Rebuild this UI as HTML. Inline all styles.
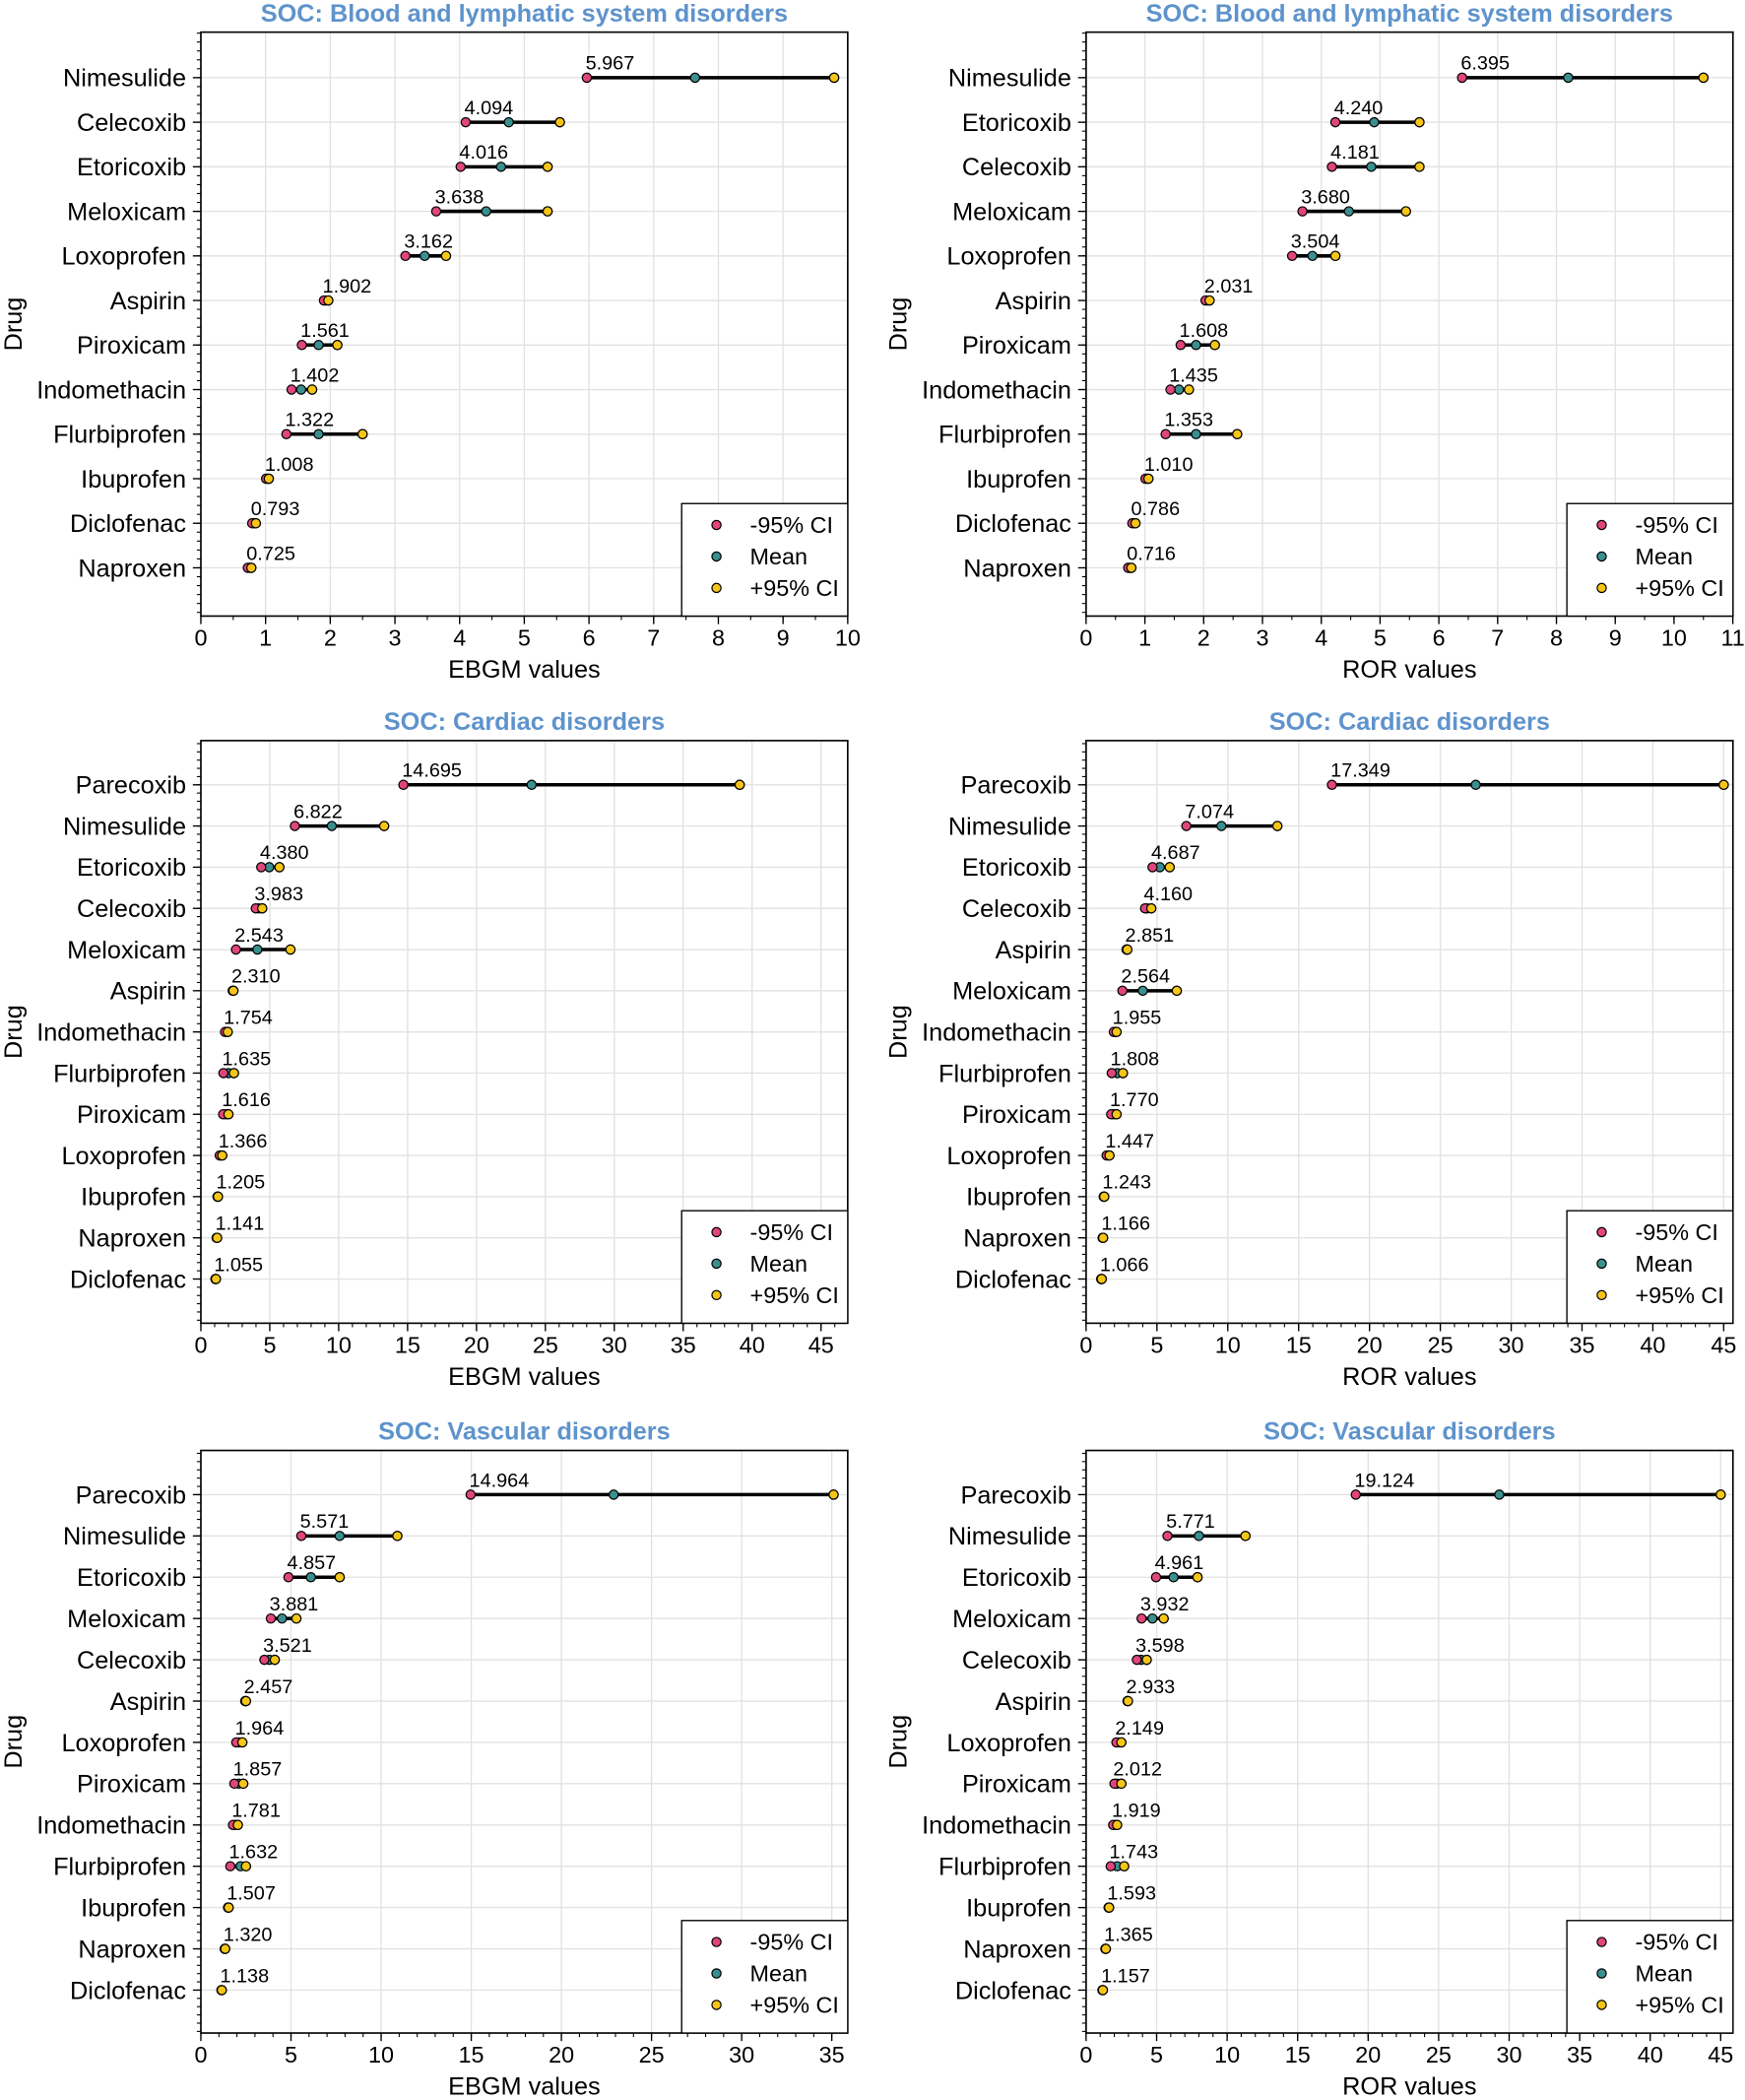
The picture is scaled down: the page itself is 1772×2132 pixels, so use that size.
<!DOCTYPE html>
<html><head><meta charset="utf-8"><style>
html,body{margin:0;padding:0;background:#fff}
svg{display:block}
text{font-family:"Liberation Sans",Arial,sans-serif}
</style></head><body>
<svg id="s" xmlns="http://www.w3.org/2000/svg" width="1772" height="2132" viewBox="0 0 1303 1568" preserveAspectRatio="none"></svg>
<script>
const S=document.getElementById('s');const NS='http://www.w3.org/2000/svg';
function el(t,a,txt){const e=document.createElementNS(NS,t);for(const k in a)e.setAttribute(k,a[k]);if(txt!==undefined)e.textContent=txt;S.appendChild(e);return e;}
const P=[
{title:"SOC: Blood and lymphatic system disorders",xl:"EBGM values",x0:150,k:48.3,x1:633,top:24,bot:460,y0:58,dy:33.27,tmax:10,ts:1,ms:0.5,rows:[
["Nimesulide","5.967",7.64,9.79],["Celecoxib","4.094",4.76,5.55],["Etoricoxib","4.016",4.64,5.36],["Meloxicam","3.638",4.41,5.36],["Loxoprofen","3.162",3.46,3.79],["Aspirin","1.902",1.93,1.97],["Piroxicam","1.561",1.82,2.11],["Indomethacin","1.402",1.55,1.72],["Flurbiprofen","1.322",1.82,2.5],["Ibuprofen","1.008",1.03,1.05],["Diclofenac","0.793",0.82,0.85],["Naproxen","0.725",0.75,0.78]]},
{title:"SOC: Blood and lymphatic system disorders",xl:"ROR values",x0:811,k:43.9,x1:1294,top:24,bot:460,y0:58,dy:33.27,tmax:11,ts:1,ms:0.5,rows:[
["Nimesulide","6.395",8.2,10.5],["Etoricoxib","4.240",4.9,5.67],["Celecoxib","4.181",4.85,5.67],["Meloxicam","3.680",4.47,5.44],["Loxoprofen","3.504",3.85,4.24],["Aspirin","2.031",2.06,2.1],["Piroxicam","1.608",1.87,2.19],["Indomethacin","1.435",1.58,1.75],["Flurbiprofen","1.353",1.87,2.57],["Ibuprofen","1.010",1.03,1.06],["Diclofenac","0.786",0.81,0.84],["Naproxen","0.716",0.74,0.77]]},
{title:"SOC: Cardiac disorders",xl:"EBGM values",x0:150,k:10.29,x1:633,top:553,bot:988,y0:586,dy:30.75,tmax:45,ts:5,ms:1,rows:[
["Parecoxib","14.695",24.0,39.1],["Nimesulide","6.822",9.5,13.3],["Etoricoxib","4.380",4.96,5.7],["Celecoxib","3.983",4.2,4.45],["Meloxicam","2.543",4.1,6.5],["Aspirin","2.310",2.33,2.36],["Indomethacin","1.754",1.85,1.95],["Flurbiprofen","1.635",2.0,2.4],["Piroxicam","1.616",1.8,2.0],["Loxoprofen","1.366",1.45,1.55],["Ibuprofen","1.205",1.22,1.24],["Naproxen","1.141",1.16,1.18],["Diclofenac","1.055",1.07,1.09]]},
{title:"SOC: Cardiac disorders",xl:"ROR values",x0:811,k:10.58,x1:1294,top:553,bot:988,y0:586,dy:30.75,tmax:45,ts:5,ms:1,rows:[
["Parecoxib","17.349",27.5,45],["Nimesulide","7.074",9.55,13.5],["Etoricoxib","4.687",5.2,5.9],["Celecoxib","4.160",4.3,4.6],["Aspirin","2.851",2.88,2.91],["Meloxicam","2.564",4.0,6.4],["Indomethacin","1.955",2.05,2.15],["Flurbiprofen","1.808",2.2,2.6],["Piroxicam","1.770",1.95,2.15],["Loxoprofen","1.447",1.55,1.65],["Ibuprofen","1.243",1.26,1.28],["Naproxen","1.166",1.18,1.2],["Diclofenac","1.066",1.08,1.1]]},
{title:"SOC: Vascular disorders",xl:"EBGM values",x0:150,k:13.46,x1:633,top:1083,bot:1518,y0:1116,dy:30.83,tmax:35,ts:5,ms:1,rows:[
["Parecoxib","14.964",22.9,35.1],["Nimesulide","5.571",7.7,10.9],["Etoricoxib","4.857",6.1,7.7],["Meloxicam","3.881",4.5,5.3],["Celecoxib","3.521",3.8,4.1],["Aspirin","2.457",2.48,2.5],["Loxoprofen","1.964",2.1,2.3],["Piroxicam","1.857",2.1,2.35],["Indomethacin","1.781",1.9,2.05],["Flurbiprofen","1.632",2.2,2.5],["Ibuprofen","1.507",1.52,1.54],["Naproxen","1.320",1.33,1.35],["Diclofenac","1.138",1.15,1.16]]},
{title:"SOC: Vascular disorders",xl:"ROR values",x0:811,k:10.53,x1:1294,top:1083,bot:1518,y0:1116,dy:30.83,tmax:45,ts:5,ms:1,rows:[
["Parecoxib","19.124",29.3,45],["Nimesulide","5.771",8.0,11.3],["Etoricoxib","4.961",6.2,7.9],["Meloxicam","3.932",4.7,5.5],["Celecoxib","3.598",3.9,4.3],["Aspirin","2.933",2.95,2.97],["Loxoprofen","2.149",2.3,2.5],["Piroxicam","2.012",2.2,2.5],["Indomethacin","1.919",2.0,2.2],["Flurbiprofen","1.743",2.2,2.7],["Ibuprofen","1.593",1.61,1.63],["Naproxen","1.365",1.38,1.4],["Diclofenac","1.157",1.17,1.19]]}
];
const PINK="#e0457b",TEAL="#3a8f8f",YEL="#f5c518";
P.forEach(c=>{
 const px=v=>c.x0+v*c.k, W=c.x1-c.x0, H=c.bot-c.top, mid=(c.x0+c.x1)/2;
 for(let t=0;t<=c.tmax+1e-9;t+=c.ts){const x=px(t);if(x<=c.x1+0.5)el('line',{x1:x,x2:x,y1:c.top,y2:c.bot,stroke:'#e2e2e2','stroke-width':1});}
 c.rows.forEach((r,i)=>{const y=c.y0+i*c.dy;el('line',{x1:c.x0,x2:c.x1,y1:y,y2:y,stroke:'#e2e2e2','stroke-width':1});});
 for(let t=0;px(t)<=c.x1+0.1;t+=c.ms){const x=px(t);el('line',{x1:x,x2:x,y1:c.bot,y2:c.bot+3,stroke:'#000','stroke-width':0.8});}
 for(let t=0;t<=c.tmax+1e-9;t+=c.ts){const x=px(t);el('line',{x1:x,x2:x,y1:c.bot,y2:c.bot+6,stroke:'#000','stroke-width':1});el('text',{x:x,y:c.bot+22,'font-size':17.2,'text-anchor':'middle'},String(t));}
 const st=c.dy/5;for(let y=c.y0-5*st;y<=c.bot+0.1;y+=st){if(y<c.top-0.1)continue;el('line',{x1:c.x0-3,x2:c.x0,y1:y,y2:y,stroke:'#000','stroke-width':0.8});}
 c.rows.forEach((r,i)=>{const y=c.y0+i*c.dy;el('line',{x1:c.x0-6,x2:c.x0,y1:y,y2:y,stroke:'#000','stroke-width':1});
  el('text',{x:c.x0-11,y:y+6.5,'font-size':18.6,'text-anchor':'end'},r[0]);
  const lo=parseFloat(r[1]);
  el('line',{x1:px(lo),x2:px(r[3]),y1:y,y2:y,stroke:'#000','stroke-width':2.6});
  [[r[3],YEL],[r[2],TEAL],[lo,PINK]].forEach(([v,col])=>el('circle',{cx:px(v),cy:y,r:3.4,fill:col,stroke:'#000','stroke-width':0.9}));
  el('circle',{cx:px(r[3]),cy:y,r:3.4,fill:YEL,stroke:'#000','stroke-width':0.9});
  el('text',{x:px(lo)-1,y:y-6,'font-size':14.6},r[1]);
 });
 el('rect',{x:c.x0,y:c.top,width:W,height:H,fill:'none',stroke:'#000','stroke-width':1.2});
 const lx=c.x1-124,ly=c.bot-84;
 el('rect',{x:lx,y:ly,width:124,height:84,fill:'#fff',stroke:'#000','stroke-width':1});
 [["-95% CI",PINK],["Mean",TEAL],["+95% CI",YEL]].forEach(([t,col],j)=>{const yy=ly+16+j*23.5;
  el('circle',{cx:lx+26,cy:yy,r:3.4,fill:col,stroke:'#000','stroke-width':0.9});
  el('text',{x:lx+51,y:yy+6,'font-size':17.2},t);});
 el('text',{x:mid,y:c.top-8,'font-size':18.6,'font-weight':'bold','text-anchor':'middle',fill:'#5e93cc'},c.title);
 el('text',{x:mid,y:c.bot+46,'font-size':18.6,'text-anchor':'middle'},c.xl);
 const cy=(c.top+c.bot)/2;
 el('text',{x:0,y:0,'font-size':18.6,'text-anchor':'middle',transform:`translate(${c.x0-134},${cy}) rotate(-90)`},"Drug");
});
</script>
</body></html>
